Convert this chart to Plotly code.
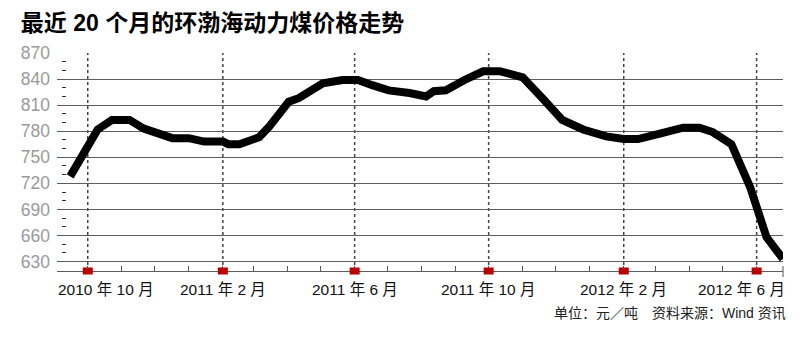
import plotly.graph_objects as go

# ---- data ----
dates = ["2010-09-15", "2010-10-10", "2010-10-23", "2010-11-08", "2010-11-21",
         "2010-12-05", "2010-12-17", "2011-01-01", "2011-01-15", "2011-02-01",
         "2011-02-06", "2011-02-16", "2011-03-06", "2011-03-15", "2011-04-02",
         "2011-04-11", "2011-04-19", "2011-05-03", "2011-05-21", "2011-06-04",
         "2011-06-17", "2011-07-02", "2011-07-21", "2011-08-05", "2011-08-12",
         "2011-08-23", "2011-09-09", "2011-09-26", "2011-10-11", "2011-11-01",
         "2011-11-19", "2011-12-07", "2011-12-26", "2012-01-16", "2012-02-01",
         "2012-02-14", "2012-03-04", "2012-03-26", "2012-04-10", "2012-04-22",
         "2012-05-09", "2012-05-26", "2012-06-10", "2012-06-25"]
prices = [728, 782, 793, 793, 783,
          777, 772, 772, 768, 768,
          765, 765, 773, 785, 814,
          818, 825, 835, 839, 839,
          833, 827, 824, 820, 826,
          827, 839, 849, 849, 842,
          818, 793, 782, 774, 771,
          771, 777, 784, 784, 779,
          765, 716, 658, 633]

marker_months = ["2010-10-01", "2011-02-01", "2011-06-01",
                 "2011-10-01", "2012-02-01", "2012-06-01"]
month_labels = ["2010 年 10 月", "2011 年 2 月", "2011 年 6 月",
                "2011 年 10 月", "2012 年 2 月", "2012 年 6 月"]

y_ticks = [630, 660, 690, 720, 750, 780, 810, 840, 870]
y_minor = [v for v in range(640, 870, 10) if v not in y_ticks]

x_range = ["2010-09-03", "2012-06-25"]
y_range = [619.1, 870]

title = "最近 20 个月的环渤海动力煤价格走势"
footer = "单位：元／吨　资料来源：Wind 资讯"

FONT = "Liberation Sans, Arial, Noto Sans CJK SC, sans-serif"
GRID = "#5e5e5e"

fig = go.Figure()

fig.add_trace(go.Scatter(
    x=dates, y=prices, mode="lines",
    line=dict(color="#000000", width=8),
    cliponaxis=False, hoverinfo="skip", showlegend=False,
))

# invisible trace to bind the minor-dash axis
fig.add_trace(go.Scatter(
    x=[dates[0]], y=[prices[0]], yaxis="y2", mode="markers",
    marker=dict(opacity=0), hoverinfo="skip", showlegend=False,
))

shapes = []
for m in marker_months:
    shapes.append(dict(type="line", xref="x", yref="paper", x0=m, x1=m, y0=0, y1=1,
                       line=dict(color="#444444", width=1.5, dash="dot"), layer="below"))
    shapes.append(dict(type="rect", xref="x", yref="paper",
                       xsizemode="pixel", ysizemode="pixel",
                       xanchor=m, yanchor=0, x0=-5, x1=5, y0=-3.5, y1=3.5,
                       fillcolor="#b80000", line=dict(width=0), layer="above"))
# right-end tick crossing the axis
shapes.append(dict(type="line", xref="paper", yref="paper", ysizemode="pixel", yanchor=0,
                   x0=1, x1=1, y0=-6, y1=5, line=dict(color="#555555", width=1)))

annotations = []
n = len(marker_months)
for i, (m, lab) in enumerate(zip(marker_months, month_labels)):
    if i == 0:
        a = dict(x=x_range[0], xanchor="left", xshift=-1)
    elif i == n - 1:
        a = dict(x=x_range[1], xanchor="right", xshift=4)
    else:
        a = dict(x=m, xanchor="center")
    a.update(text=lab, xref="x", yref="paper", y=0, yshift=-18, yanchor="middle",
             showarrow=False, font=dict(family=FONT, size=15.5, color="#111111"))
    annotations.append(a)

annotations.append(dict(text=footer, xref="paper", yref="paper", x=1, xshift=5,
                        xanchor="right", y=0, yshift=-42, yanchor="middle",
                        showarrow=False,
                        font=dict(family=FONT, size=14, color="#222222")))

fig.update_layout(
    width=800, height=340,
    margin=dict(l=57, r=17, t=53, b=69, pad=0),
    paper_bgcolor="white", plot_bgcolor="white",
    title=dict(text="<b>" + title + "</b>", x=0.026, xanchor="left",
               y=1 - 23 / 340, yanchor="middle", yref="container",
               font=dict(family="Liberation Sans, Noto Sans CJK SC, sans-serif",
                         size=23, color="#000000")),
    xaxis=dict(type="date", range=x_range, showgrid=False, zeroline=False,
               showline=True, linecolor=GRID, linewidth=1.2,
               ticks="inside", ticklen=5, tickcolor="#555555", tickwidth=1,
               dtick="M1", tick0="2010-09-01", showticklabels=False),
    yaxis=dict(range=y_range, tickvals=y_ticks, showgrid=True, gridcolor=GRID,
               gridwidth=1.2, zeroline=False, showline=False, ticks="",
               tickfont=dict(family="Liberation Sans, Arial, sans-serif",
                             size=17.5, color="#9a9a9a"),
               ticklabelstandoff=6),
    yaxis2=dict(range=y_range, overlaying="y", anchor="free", position=0.0055,
                side="left", tickvals=y_minor, ticks="inside", ticklen=4,
                tickwidth=1.3, tickcolor="#333333", showticklabels=False,
                showgrid=False, zeroline=False, showline=False),
    shapes=shapes, annotations=annotations,
)

fig.write_html("out.html")
